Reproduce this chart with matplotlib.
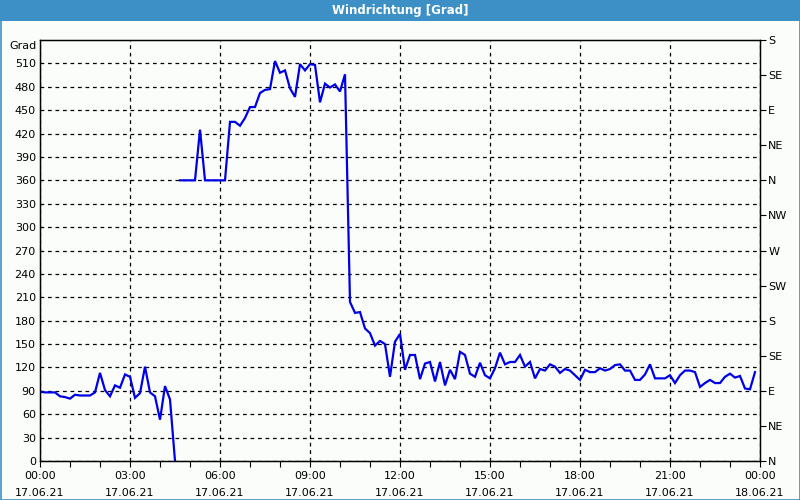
import numpy as np
import matplotlib.pyplot as plt
from matplotlib.patches import Rectangle

# wind direction, 10 minute samples (minutes after 00:00 17.06.21)
# first branch until the wrap around at 04:30
t1_min = [0, 10, 20, 30, 40, 50, 60, 70, 80, 90, 100, 110, 120, 130, 140,
          150, 160, 170, 180, 190, 200, 210, 220, 230, 240, 250, 260, 270]
dir1 = [89, 88, 88, 88, 83, 82, 80, 85, 84, 84, 84, 88, 113, 91, 83,
        97, 94, 111, 108, 81, 87, 121, 88, 83, 53, 96, 79, 0]

# second branch (unwrapped above 360)
t2_min = [280, 290, 300, 310, 320, 330, 340, 350, 360, 370, 380, 390, 400,
          410, 420, 430, 440, 450, 460, 470, 480, 490, 500, 510, 520, 530,
          540, 550, 560, 570, 580, 590, 600, 610, 620, 630, 640, 650, 660,
          670, 680, 690, 700, 710, 720, 730, 740, 750, 760, 770, 780, 790,
          800, 810, 820, 830, 840, 850, 860, 870, 880, 890, 900, 910, 920,
          930, 940, 950, 960, 970, 980, 990, 1000, 1010, 1020, 1030, 1040,
          1050, 1060, 1070, 1080, 1090, 1100, 1110, 1120, 1130, 1140, 1150,
          1160, 1170, 1180, 1190, 1200, 1210, 1220, 1230, 1240, 1250, 1260,
          1270, 1280, 1290, 1300, 1310, 1320, 1330, 1340, 1350, 1360, 1370,
          1380, 1390, 1400, 1410, 1420, 1430]
dir2 = [360, 360, 360, 360, 425, 360, 360, 360, 360, 360, 435, 435, 430,
        440, 454, 454, 472, 476, 477, 513, 498, 501, 478, 467, 509, 501,
        509, 508, 460, 484, 479, 483, 474, 496, 204, 190, 191, 170, 164,
        148, 154, 150, 108, 153, 163, 117, 136, 136, 105, 125, 127, 102,
        127, 97, 117, 105, 140, 136, 112, 108, 126, 110, 106, 119, 139,
        124, 127, 127, 136, 121, 127, 106, 118, 116, 124, 121, 113,
        118, 116, 110, 104, 117, 114, 114, 119, 116, 118, 123,
        124, 116, 116, 104, 104, 111, 124, 106, 106, 106, 110,
        100, 110, 116, 116, 114, 95, 100, 104, 100, 100, 108,
        112, 107, 109, 93, 92, 114]

y_ticks = list(range(0, 540, 30))
compass_ticks = list(range(0, 541, 45))
compass_labels = ['N', 'NE', 'E', 'SE', 'S', 'SW', 'W', 'NW',
                  'N', 'NE', 'E', 'SE', 'S']
x_ticks_h = [0, 3, 6, 9, 12, 15, 18, 21, 24]
x_labels = ['00:00\n17.06.21', '03:00\n17.06.21', '06:00\n17.06.21',
            '09:00\n17.06.21', '12:00\n17.06.21', '15:00\n17.06.21',
            '18:00\n17.06.21', '21:00\n17.06.21', '00:00\n18.06.21']

bg = '#FBFDFB'
bar_blue = '#3C90C6'
plt.rcParams['font.family'] = 'DejaVu Sans'
plt.rcParams['font.size'] = 8

fig = plt.figure(figsize=(8, 5), dpi=100, facecolor=bg)

# title bar + frame
fig.patches.append(Rectangle((0, 1 - 21/500), 1, 21/500, transform=fig.transFigure,
                             facecolor=bar_blue, edgecolor='none', zorder=0))
fig.patches.append(Rectangle((0.5/800, 0.5/500), 1 - 1/800, 1 - 1/500,
                             transform=fig.transFigure, facecolor='none',
                             edgecolor=bar_blue, lw=1.2, zorder=0))
fig.text(0.5, 1 - 10.5/500, 'Windrichtung [Grad]', color='white', weight='bold',
         ha='center', va='center', fontsize=8.5)

axs = fig.add_axes([40/800, 1 - 461/500, 720/800, 421/500])
axs.set_facecolor(bg)

t1 = np.array(t1_min) / 60.0
t2 = np.array(t2_min) / 60.0
axs.plot(t1, dir1, color='#0000E6', lw=1.6, solid_joinstyle='miter')
axs.plot(t2, dir2, color='#0000E6', lw=1.6, solid_joinstyle='miter')

axs.set_xlim(0, 24)
axs.set_ylim(0, 540)

axs.set_yticks(y_ticks)
axs.set_yticklabels([str(v) for v in y_ticks])
axs.tick_params(axis='y', length=0, pad=3, labelsize=8)
axs.text(-0.004, 1 - 1/421, 'Grad', transform=axs.transAxes, ha='right', va='top',
         fontsize=8)

axs.set_xticks(x_ticks_h)
axs.set_xticklabels(x_labels, linespacing=1.9)
axs.xaxis.set_minor_locator(plt.MultipleLocator(1))
axs.tick_params(axis='x', which='both', direction='out', length=4, width=0.8,
                labelsize=8, pad=3)

axs.grid(True, which='major', axis='both', color='black', lw=0.9,
         linestyle=(0, (3, 3)))
for sp in axs.spines.values():
    sp.set_color('black')
    sp.set_linewidth(1.0)

# compass labels on the right side
ax2 = axs.twinx()
ax2.set_ylim(0, 540)
ax2.set_yticks(compass_ticks)
ax2.set_yticklabels(compass_labels)
ax2.tick_params(axis='y', direction='out', length=4, width=0.8, pad=2, labelsize=8)

plt.savefig('out.png', dpi=100, facecolor=bg)
